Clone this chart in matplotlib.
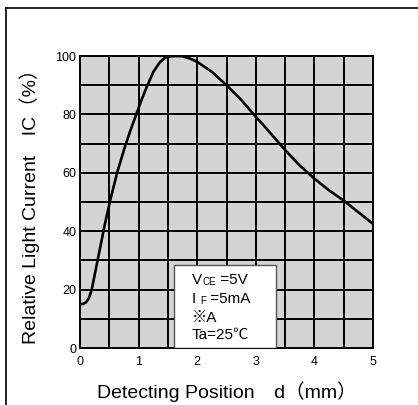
import numpy as np
import matplotlib
matplotlib.use("Agg")
import matplotlib.pyplot as plt
from matplotlib.patches import Rectangle
from matplotlib.lines import Line2D

plt.rcParams['font.family'] = ['Liberation Sans', 'Noto Sans CJK JP', 'DejaVu Sans']

#### data ####
pos_mm = [0, 0.05, 0.1, 0.15, 0.2, 0.26, 0.33, 0.42, 0.52, 0.64, 0.76, 0.86,
          0.96, 1.05, 1.13, 1.25, 1.36, 1.45, 1.55, 1.65, 1.75, 1.88, 2.0,
          2.25, 2.5, 2.75, 3.0, 3.25, 3.5, 3.75, 4.0, 4.25, 4.5, 4.75, 5.0]
rel_ic = [15, 15.1, 15.6, 17, 20, 26, 33, 42, 51, 60.5, 68.5, 74.5,
          80, 85, 89, 94.5, 97.8, 99.4, 99.9, 100, 99.9, 99.1, 98,
          94.6, 90, 85, 79.2, 73.6, 67.8, 62.5, 58, 54, 50.5, 46.5, 42.5]
xticks = [0, 1, 2, 3, 4, 5]
yticks = [0, 20, 40, 60, 80, 100]

fig = plt.figure(figsize=(4.18, 4.05), dpi=100)
ax = fig.add_axes([0.1914, 0.1407, 0.7010, 0.7210])
ax.set_facecolor('#d4d4d4')

# grid every 0.5 mm / 10 %
for gx in np.arange(0.5, 5.0, 0.5):
    ax.axvline(gx, color='black', lw=1.4, zorder=1)
for gy in np.arange(10, 100, 10):
    ax.axhline(gy, color='black', lw=1.4, zorder=1)

ax.plot(pos_mm, rel_ic, color='black', lw=1.9, zorder=3,
        solid_capstyle='round', solid_joinstyle='round')

ax.set_xlim(0, 5)
ax.set_ylim(0, 100)
ax.set_xticks(xticks)
ax.set_yticks(yticks)
ax.tick_params(length=0, labelsize=9)
ax.tick_params(axis='x', pad=6)
ax.tick_params(axis='y', pad=2.5)
for s in ax.spines.values():
    s.set_linewidth(1.4)

ax.set_xlabel('Detecting Position\u3000d\uff08mm\uff09', fontsize=14, va='center')
ax.set_ylabel('Relative Light Current\u3000IC\uff08%\uff09', fontsize=14, va='center')
ax.xaxis.set_label_coords(0.5, -0.151)
ax.yaxis.set_label_coords(-0.171, 0.5)

# condition box
ax.add_patch(Rectangle((1.6, 0), 1.75, 28.5, facecolor='white', edgecolor='#555555',
                       lw=1.0, zorder=4))

def rainbow(x, y, parts):
    t = ax.text(x, y, parts[0][0], fontsize=parts[0][1], va='baseline', zorder=5)
    for s, fs in parts[1:]:
        t = ax.annotate(s, xycoords=t, xy=(1, 0), va='bottom', fontsize=fs, zorder=5)

bx = 1.91
rainbow(bx, 21.9, [('V', 11), ('CE', 7), (' =5V', 11)])
rainbow(bx, 15.3, [('I ', 11), ('F', 7), (' =5mA', 11)])
rainbow(bx, 9.0, [('\u203bA', 11)])
rainbow(bx, 3.0, [('Ta=25\u2103', 11)])

# outer frame (left and top edges)
fig.add_artist(Line2D([6 / 418, 6 / 418], [0, 1 - 8 / 405], color='black', lw=1.2))
fig.add_artist(Line2D([6 / 418, 1], [1 - 8 / 405, 1 - 8 / 405], color='black', lw=1.2))

fig.savefig('out.png', dpi=100)
